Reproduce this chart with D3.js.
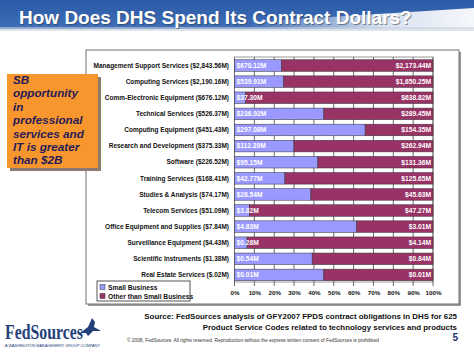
<!DOCTYPE html>
<html><head><meta charset="utf-8">
<script src="https://cdn.jsdelivr.net/npm/d3@7"></script>
<style>html,body{margin:0;padding:0;background:#fff;}svg{display:block;font-family:Arial,"Liberation Sans",sans-serif;}</style>
</head><body>
<svg id="c" width="474" height="355"></svg>
<script>
const categories = [
  "Management Support Services ($2,843.56M)",
  "Computing Services ($2,190.16M)",
  "Comm-Electronic Equipment ($676.12M)",
  "Technical Services ($526.37M)",
  "Computing Equipment ($451.43M)",
  "Research and Development ($375.33M)",
  "Software ($226.52M)",
  "Training Services ($168.41M)",
  "Studies & Analysis ($74.17M)",
  "Telecom Services ($51.09M)",
  "Office Equipment and Supplies ($7.84M)",
  "Surveillance Equipment ($4.43M)",
  "Scientific Instruments ($1.38M)",
  "Real Estate Services ($.02M)"
];
const smallBusiness = [670.12, 539.91, 37.30, 236.92, 297.08, 112.39, 95.15, 42.77, 28.54, 3.82, 4.83, 0.28, 0.54, 0.009];
const otherThanSmall = [2173.44, 1650.25, 638.82, 289.45, 154.35, 262.94, 131.36, 125.65, 45.63, 47.27, 3.01, 4.14, 0.84, 0.011];
const seriesNames = ["Small Business", "Other than Small Business"];
const tickLabels = ["0%","10%","20%","30%","40%","50%","60%","70%","80%","90%","100%"];
const calloutLines = ["SB", "opportunity", "in", "professional", "services and", "IT is greater", "than $2B"];
const sourceLines = [
  "Source: FedSources analysis of GFY2007 FPDS contract obligations in DHS for 625",
  "Product Service Codes related to technology services and products"
];

const svg = d3.select("#c");
const colors = ["#9999ff", "#993366"];

// header
const defs = svg.append("defs");
const hg = defs.append("linearGradient").attr("id","hg").attr("x1",0).attr("y1",0).attr("x2",0).attr("y2",1);
hg.append("stop").attr("offset","0%").attr("stop-color","#2b5aa6");
hg.append("stop").attr("offset","100%").attr("stop-color","#3f6fb8");
const sg = defs.append("linearGradient").attr("id","sg").attr("x1",0).attr("y1",0).attr("x2",1).attr("y2",0);
sg.append("stop").attr("offset","0%").attr("stop-color","#ffffff").attr("stop-opacity",0);
sg.append("stop").attr("offset","60%").attr("stop-color","#ffffff").attr("stop-opacity",0.8);
sg.append("stop").attr("offset","100%").attr("stop-color","#ffffff").attr("stop-opacity",0.95);
svg.append("rect").attr("x",0).attr("y",0).attr("width",474).attr("height",29).attr("fill","url(#hg)");
svg.append("path").attr("d","M250,22 L474,8 L474,33 L250,30 Z").attr("fill","url(#sg)");
svg.append("rect").attr("x",0).attr("y",27).attr("width",474).attr("height",4).attr("fill","#c8d2de").attr("opacity",0.6);
svg.append("text").attr("x",20).attr("y",25).attr("font-size",19).attr("font-weight","bold")
  .attr("fill","#333").attr("opacity",0.5).text("How Does DHS Spend Its Contract Dollars?");
svg.append("text").attr("x",19).attr("y",24).attr("font-size",19).attr("font-weight","bold")
  .attr("fill","#ffffff").text("How Does DHS Spend Its Contract Dollars?");

// frame
svg.append("rect").attr("x",88).attr("y",52).attr("width",373).attr("height",254).attr("fill","#9a9a9a");
svg.append("rect").attr("x",86).attr("y",50).attr("width",373).attr("height",254).attr("fill","#fff").attr("stroke","#707070").attr("stroke-width",1);

// scales
const x = d3.scaleLinear().domain([0,100]).range([234.5,433]);
const y = d3.scaleBand().domain(categories).range([57.5,283]).paddingInner(0.28).paddingOuter(0.14);

const data = categories.map((c,i)=>{
  const t = smallBusiness[i] + otherThanSmall[i];
  return {c, sb: smallBusiness[i], ot: otherThanSmall[i], p: smallBusiness[i]/t*100};
});

const plotTop = 57, plotBot = 282;
svg.append("rect").attr("x",x(0)).attr("y",plotTop).attr("width",x(100)-x(0)).attr("height",plotBot-plotTop)
  .attr("fill","#fff").attr("stroke","#9a9a9a");
svg.append("g").selectAll("line").data(d3.range(0,101,10)).join("line")
  .attr("x1",d=>x(d)).attr("x2",d=>x(d)).attr("y1",plotTop).attr("y2",plotBot+4)
  .attr("stroke","#6a6a6a").attr("stroke-width",1);

// bars
const g = svg.append("g");
g.selectAll("rect.sb").data(data).join("rect").attr("class","sb")
  .attr("x",x(0)).attr("y",d=>y(d.c)).attr("width",d=>x(d.p)-x(0)).attr("height",y.bandwidth())
  .attr("fill",colors[0]).attr("stroke","#333").attr("stroke-width",0.5);
g.selectAll("rect.ot").data(data).join("rect").attr("class","ot")
  .attr("x",d=>x(d.p)).attr("y",d=>y(d.c)).attr("width",d=>x(100)-x(d.p)).attr("height",y.bandwidth())
  .attr("fill",colors[1]).attr("stroke","#333").attr("stroke-width",0.5);

const fmt = v => "$" + d3.format(",.2f")(v) + "M";
g.selectAll("text.sbl").data(data).join("text").attr("class","sbl")
  .attr("x",x(0)+2).attr("y",d=>y(d.c)+y.bandwidth()/2).attr("dy","0.35em")
  .attr("font-size",6.7).attr("font-weight","bold").attr("fill","#fff").text(d=>fmt(d.sb));
g.selectAll("text.otl").data(data).join("text").attr("class","otl")
  .attr("x",x(100)-2).attr("y",d=>y(d.c)+y.bandwidth()/2).attr("dy","0.35em").attr("text-anchor","end")
  .attr("font-size",6.7).attr("font-weight","bold").attr("fill","#fff").text(d=>fmt(d.ot));

// category labels
svg.append("g").selectAll("text").data(categories).join("text")
  .attr("x",229).attr("y",d=>y(d)+y.bandwidth()/2).attr("dy","0.35em").attr("text-anchor","end")
  .attr("font-size",6.5).attr("font-weight","bold").attr("fill","#111").text(d=>d);

// x axis
const xa = svg.append("g").attr("transform",`translate(0,${plotBot})`)
  .call(d3.axisBottom(x).tickValues(d3.range(0,101,10)).tickFormat((d,i)=>tickLabels[i]).tickSize(0).tickPadding(9));
xa.select(".domain").remove();
xa.selectAll("text").attr("font-size",6.2).attr("font-weight","bold").attr("fill","#111").attr("font-family","Arial, 'Liberation Sans', sans-serif");

// legend
const lg = svg.append("g");
lg.append("rect").attr("x",97).attr("y",281).attr("width",93).attr("height",20).attr("fill","#fff").attr("stroke","#555");
seriesNames.forEach((n,i)=>{
  lg.append("rect").attr("x",100).attr("y",284.5+i*9).attr("width",5).attr("height",5).attr("fill",colors[i]).attr("stroke","#333").attr("stroke-width",0.5);
  lg.append("text").attr("x",108).attr("y",289.5+i*9).attr("font-size",6.7).attr("font-weight","bold").attr("fill","#111").text(n);
});

// callout box
svg.append("rect").attr("x",10).attr("y",77).attr("width",91).attr("height",94).attr("fill","#8a7a70");
svg.append("rect").attr("x",7).attr("y",74).attr("width",91).attr("height",94).attr("fill","#f7962d");
svg.append("g").selectAll("text").data(calloutLines).join("text")
  .attr("x",13).attr("y",(d,i)=>84+i*13.4).attr("font-size",11.7).attr("font-weight","bold").attr("font-style","italic")
  .attr("fill","#261a58").text(d=>d);

// source
svg.append("g").selectAll("text").data(sourceLines).join("text")
  .attr("x",457).attr("y",(d,i)=>319+i*10.5).attr("text-anchor","end")
  .attr("font-size",7.9).attr("font-weight","bold").attr("fill","#111").text(d=>d);
svg.append("text").attr("x",127).attr("y",342).attr("font-size",4.8).attr("fill","#333")
  .text("\u00a9 2008, FedSources. All rights reserved. Reproduction without the express written consent of FedSources is prohibited");
svg.append("text").attr("x",458).attr("y",341).attr("text-anchor","end").attr("font-size",10).attr("font-weight","bold").attr("fill","#1d2f6b").text("5");

// logo
svg.append("text").attr("x",5).attr("y",339).attr("font-family","'Liberation Serif','DejaVu Serif',serif")
  .attr("font-size",20).attr("font-weight","bold").attr("fill","#24407a").attr("textLength",78).attr("lengthAdjust","spacingAndGlyphs").text("FedSources");
svg.append("path").attr("d","M80,333 L88,327 L92,318 L95,322 L94,327 L101,331 L93,331 L88,336 L86,333 Z").attr("fill","#24407a");
svg.append("text").attr("x",5).attr("y",347).attr("font-size",3.4).attr("fill","#24407a")
  .attr("textLength",95).attr("lengthAdjust","spacingAndGlyphs").text("A WASHINGTON MANAGEMENT GROUP COMPANY");
</script>
</body></html>
